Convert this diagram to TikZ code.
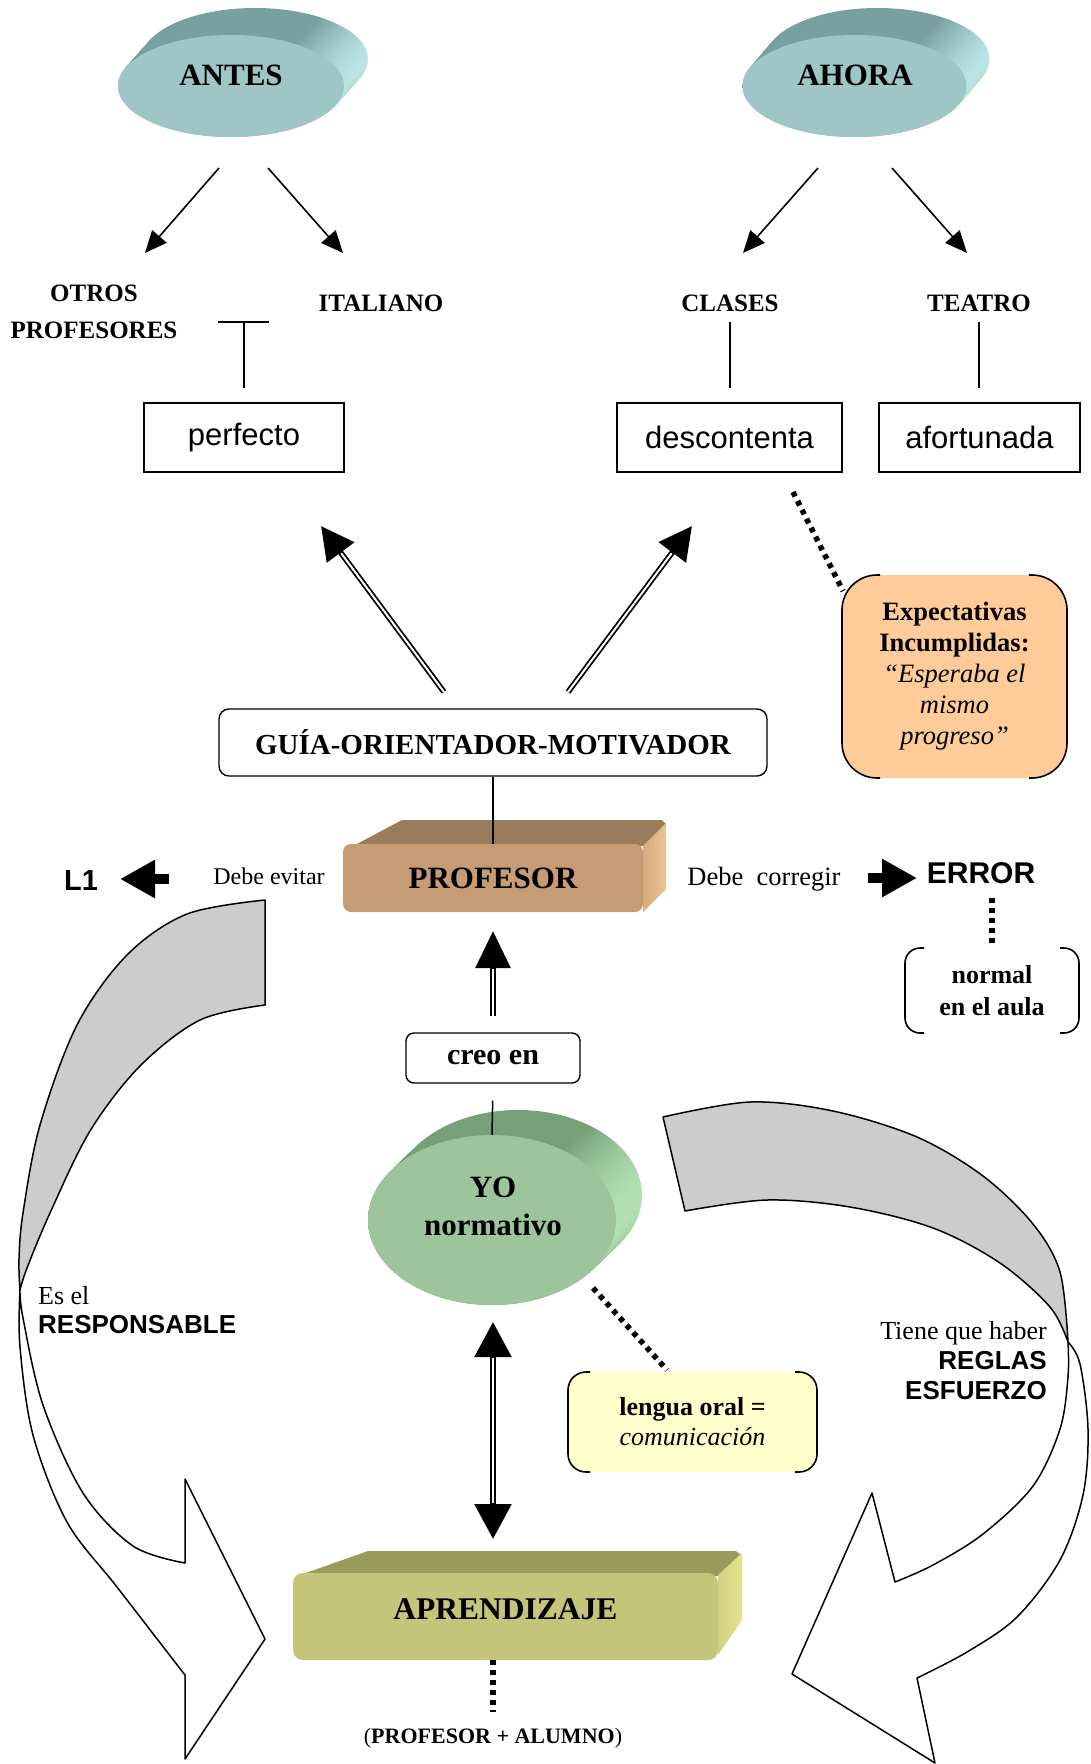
\documentclass[tikz,border=0pt]{standalone}
\usepackage{fontspec}
\setmainfont{Liberation Serif}
\newfontfamily\arial{Liberation Sans}
\usetikzlibrary{arrows.meta,shapes.geometric}
\newcommand\fsz[2]{\fontsize{#1pt}{#2pt}\selectfont}
\definecolor{tealF}{RGB}{158,198,198}
\definecolor{tealD}{RGB}{120,160,160}
\definecolor{tealL}{RGB}{188,230,230}
\definecolor{greenF}{RGB}{157,196,155}
\definecolor{greenD}{RGB}{120,160,120}
\definecolor{greenL}{RGB}{180,226,180}
\definecolor{tanF}{RGB}{197,156,115}
\definecolor{tanD}{RGB}{154,123,92}
\definecolor{tanL}{RGB}{234,196,146}
\definecolor{oliveF}{RGB}{196,196,122}
\definecolor{oliveD}{RGB}{154,154,92}
\definecolor{oliveL}{RGB}{228,228,142}
\definecolor{peach}{RGB}{255,204,153}
\definecolor{cream}{RGB}{255,255,204}
\definecolor{ribbongray}{RGB}{204,204,204}
\pgfdeclarehorizontalshading{tealside}{100bp}{color(0bp)=(tealD); color(25bp)=(tealD); color(64bp)=(tealD); color(75bp)=(tealL); color(100bp)=(tealL)}
\pgfdeclarehorizontalshading{greenside}{100bp}{color(0bp)=(greenD); color(25bp)=(greenD); color(64bp)=(greenD); color(75bp)=(greenL); color(100bp)=(greenL)}
\begin{document}
\begin{tikzpicture}[x=1pt,y=-1pt,
  lbl/.style={inner sep=0pt, align=center},
  framebox/.style={draw, line width=1.4pt, inner sep=0pt, align=center},
  solidline/.style={line width=1.5pt},
  thinarrow/.style={line width=1.6pt, -{Triangle[length=22pt,width=19pt]}},
  dblarrow/.style={line width=5.6pt, -{Triangle[length=33pt,width=33pt]}, postaction={draw=white, line width=2pt, -, shorten >=34pt}},
  dblarrowb/.style={line width=5.6pt, -{Triangle[length=37pt,width=34pt]}, postaction={draw=white, line width=2pt, -, shorten >=38pt}},
  dbltwo/.style={line width=5.6pt, {Triangle[length=35pt,width=36pt]}-{Triangle[length=35pt,width=36pt]}, postaction={draw=white, line width=2pt, -, shorten >=36pt, shorten <=36pt}},
  blockarrow/.style={line width=10pt, -{Triangle[length=35pt,width=36pt]}},
  dotline/.style={line width=5.5pt, dash pattern=on 5pt off 5pt},
  ribbonline/.style={line width=1.5pt, line join=round},
  bracket/.style={line width=1.6pt},
]
\useasboundingbox (0,0) rectangle (1090,1764);

% ---------- ribbons (background) ----------
\filldraw[ribbonline, fill=ribbongray] plot[smooth, tension=0.55] coordinates {(265,900) (187,914) (127,955) (77,1025) (40,1125) (23,1213) (19,1259) (20,1290)}
  -- plot[smooth, tension=0.55] coordinates {(20,1290) (27,1268) (50,1213) (90,1131) (140,1066) (200,1020) (265,1005)} -- cycle;
\filldraw[ribbonline, fill=white] plot[smooth, tension=0.55] coordinates {(20,1290) (20,1347) (33,1435) (67,1522) (117,1587) (185,1675)}
  -- (185,1759) -- (265,1639) -- (185,1479) -- (185,1563)
  -- plot[smooth, tension=0.55] coordinates {(185,1563) (133,1546) (83,1493) (43,1405) (23,1318) (20,1290)} -- cycle;
\filldraw[ribbonline, fill=ribbongray] plot[smooth, tension=0.55] coordinates {(663,1117) (750,1102) (833,1111) (917,1137) (983,1176) (1033,1224) (1060,1272) (1068,1342)}
  -- plot[smooth, tension=0.55] coordinates {(1068,1342) (1050,1307) (1000,1263) (933,1228) (850,1207) (767,1200) (685,1211)} -- cycle;
\filldraw[ribbonline, fill=white] plot[smooth, tension=0.55] coordinates {(1068,1342) (1080,1364) (1088,1429) (1083,1495) (1060,1560) (1017,1617) (967,1652) (917,1678)}
  -- (935,1763) -- (792,1674) -- (872,1493) -- (895,1582)
  -- plot[smooth, tension=0.55] coordinates {(895,1582) (933,1565) (983,1534) (1033,1486) (1060,1429) (1068,1377) (1068,1342)} -- cycle;

% ---------- cylinders ----------
\foreach \i in {0,...,24} {
  \shade[shading=tealside] ({231+24*(1-\i/24)},{86-27*(1-\i/24)}) ellipse [x radius=113pt, y radius=51pt];
  \shade[shading=tealside] ({854.5+23*(1-\i/24)},{86-27*(1-\i/24)}) ellipse [x radius=112pt, y radius=51pt];
  \shade[shading=greenside] ({492+26*(1-\i/24)},{1220-25*(1-\i/24)}) ellipse [x radius=124pt, y radius=85pt];
}
\node[ellipse, fill=tealF, minimum width=226pt, minimum height=102pt, inner sep=0pt] (antesE) at (231,86) {};
\node[ellipse, fill=tealF, minimum width=224pt, minimum height=102pt, inner sep=0pt] (ahoraE) at (854.5,86) {};
\node[ellipse, fill=greenF, minimum width=248pt, minimum height=170pt, inner sep=0pt] (yo) at (492,1220) {};
\node[lbl, font=\fsz{31}{37}\bfseries] (antes) at (231,75) {ANTES};
\node[lbl, font=\fsz{31}{37}\bfseries] (ahora) at (855,75) {AHORA};
\node[lbl, font=\fsz{31}{38}\bfseries] (yoT) at (493,1206) {YO\\normativo};

% ---------- blocks ----------
\fill[tanD] (355,845) -- (402,820) -- (662,820) -- (666,824) -- (643,846) -- cycle;
\shade[left color=tanF!60!tanL, right color=tanL] (643,846) -- (666,823) -- (666,889) -- (643,912) -- cycle;
\node[lbl, fill=tanF, rounded corners=8pt, minimum width=300pt, minimum height=68pt, font=\fsz{31}{37}\bfseries] (prof) at (493,878) {PROFESOR};

\fill[oliveD] (303,1574) -- (368,1551) -- (736,1551) -- (742,1556) -- (718,1576) -- cycle;
\shade[left color=oliveF!60!oliveL, right color=oliveL] (718,1575) -- (742,1553) -- (742,1620) -- (718,1655) -- cycle;
\node[lbl, fill=oliveF, rounded corners=10pt, minimum width=425pt, minimum height=87pt, text height=21pt, text depth=16pt, font=\fsz{31.5}{37}\bfseries] (aprend) at (505.5,1616.5) {APRENDIZAJE};

% ---------- labels ----------
\node[lbl, font=\fsz{25}{37}\bfseries] (otros) at (94,311.5) {OTROS\\PROFESORES};
\node[lbl, font=\fsz{25}{30}\bfseries] (ital) at (381,303) {ITALIANO};
\node[lbl, font=\fsz{25}{30}\bfseries] (clases) at (730,303) {CLASES};
\node[lbl, font=\fsz{25}{30}\bfseries] (teatro) at (979,303) {TEATRO};

\node[framebox, minimum width=200pt, minimum height=69pt, font=\arial\fsz{31}{37}] (perf) at (244,437.5) {perfecto};
\node[framebox, minimum width=225pt, minimum height=69pt, font=\arial\fsz{31}{37}] (desc) at (729.5,437.5) {descontenta};
\node[framebox, minimum width=201pt, minimum height=69pt, font=\arial\fsz{31}{37}] (afor) at (979.5,437.5) {afortunada};

\node[framebox, rounded corners=10pt, minimum width=548pt, minimum height=67pt, font=\fsz{29}{34}\bfseries] (guia) at (493,742.5) {GUÍA-ORIENTADOR-MOTIVADOR};

\node[lbl, fill=peach, rounded corners=35pt, minimum width=225pt, minimum height=203pt, font=\fsz{26.5}{31}] (expe) at (954.5,676.5) {\textbf{Expectativas}\\\textbf{Incumplidas:}\\\textit{“Esperaba el}\\\textit{mismo}\\\textit{progreso”}};
\draw[bracket, rounded corners=35pt] (880,575) -- (842,575) -- (842,778) -- (880,778);
\draw[bracket, rounded corners=35pt] (1029,575) -- (1067,575) -- (1067,778) -- (1029,778);

\node[lbl, font=\arial\fsz{29}{34}\bfseries] (l1) at (81,881) {L1};
\node[lbl, font=\fsz{24}{28}] (evitar) at (269,876) {Debe evitar};
\node[lbl, font=\fsz{26.5}{30}] (corregir) at (764,879) {Debe\ \ corregir};
\node[lbl, font=\arial\fsz{30}{36}\bfseries] (err) at (981,873) {ERROR};

\node[lbl, minimum width=174pt, minimum height=85pt, font=\fsz{26}{32}\bfseries] (normal) at (992,990.5) {normal\\en el aula};
\draw[bracket, rounded corners=15pt] (924,948) -- (905,948) -- (905,1033) -- (924,1033);
\draw[bracket, rounded corners=15pt] (1060,948) -- (1079,948) -- (1079,1033) -- (1060,1033);

\node[framebox, rounded corners=8pt, minimum width=174pt, minimum height=50pt, font=\fsz{30}{36}\bfseries] (creo) at (493,1058) {creo en};

\node[lbl, fill=cream, rounded corners=18pt, minimum width=249pt, minimum height=100pt, font=\fsz{26}{30}] (lengua) at (692.5,1422) {\textbf{lengua oral =}\\\textit{comunicación}};
\draw[bracket, rounded corners=18pt] (590,1372) -- (568,1372) -- (568,1472) -- (590,1472);
\draw[bracket, rounded corners=18pt] (795,1372) -- (817,1372) -- (817,1472) -- (795,1472);

\node[lbl, anchor=west, align=left, font=\fsz{26}{29}] (resp) at (38,1310) {Es el\\{\arial\bfseries RESPONSABLE}};
\node[lbl, anchor=east, align=right, font=\fsz{26}{30}] (tiene) at (1047,1361) {Tiene que haber\\{\arial\bfseries REGLAS}\\{\arial\bfseries ESFUERZO}};

\node[lbl, font=\fsz{22}{26}] (pa) at (493,1738) {(\textbf{PROFESOR + ALUMNO})};

% ---------- connectors ----------
\coordinate (antesL) at (219,168);
\coordinate (antesR) at (268,168);
\coordinate (otrosTip) at (145,253);
\coordinate (italTip) at (343,253);
\coordinate (ahoraL) at (818,168);
\coordinate (ahoraR) at (892,168);
\coordinate (clasesTip) at (743,253);
\coordinate (teatroTip) at (967,253);
\draw[thinarrow] (antesL) -- (otrosTip);
\draw[thinarrow] (antesR) -- (italTip);
\draw[thinarrow] (ahoraL) -- (clasesTip);
\draw[thinarrow] (ahoraR) -- (teatroTip);

\coordinate (tbar) at (244,322);
\draw[solidline] (218,322) -- (269,322);
\draw[solidline, shorten >=14pt] (tbar) -- (perf.north);
\draw[solidline, shorten <=10pt, shorten >=14pt] (clases.south) -- (clases.south |- desc.north);
\draw[solidline, shorten <=10pt, shorten >=14pt] (teatro.south) -- (teatro.south |- afor.north);

\coordinate (guiaL) at (444,692);
\coordinate (guiaR) at (568,692);
\coordinate (perfTip) at (321,526);
\coordinate (descTip) at (692,526);
\draw[dblarrow] (guiaL) -- (perfTip);
\draw[dblarrow] (guiaR) -- (descTip);

\coordinate (descDot) at (793,492);
\coordinate (expeDot) at (843,591);
\draw[dotline] (descDot) -- (expeDot);

\draw[solidline] (guia.south) -- (prof.north);

\draw[blockarrow] (169,879) coordinate (l1start) -- (120,879) coordinate (l1tip);
\draw[blockarrow] (868,878) coordinate (errstart) -- (917,878) coordinate (errtip);

\draw[dotline, shorten <=14pt] (normal.north |- err.south) -- (normal.north);

\coordinate (creoUp) at (493,1016);
\coordinate (profTip) at (493,931);
\draw[dblarrowb] (creoUp) -- (profTip);

\draw[solidline, shorten <=17pt] (creo.south) -- (yo.north);

\coordinate (yoTip) at (493,1322);
\coordinate (aprTip) at (493,1539);
\draw[dbltwo] (yoTip) -- (aprTip);

\coordinate (yoDot) at (593,1288);
\coordinate (lenguaDot) at (667,1370);
\draw[dotline] (yoDot) -- (lenguaDot);

\draw[dotline, shorten >=16pt] (pa.north |- aprend.south) -- (pa.north);
\end{tikzpicture}
\end{document}
